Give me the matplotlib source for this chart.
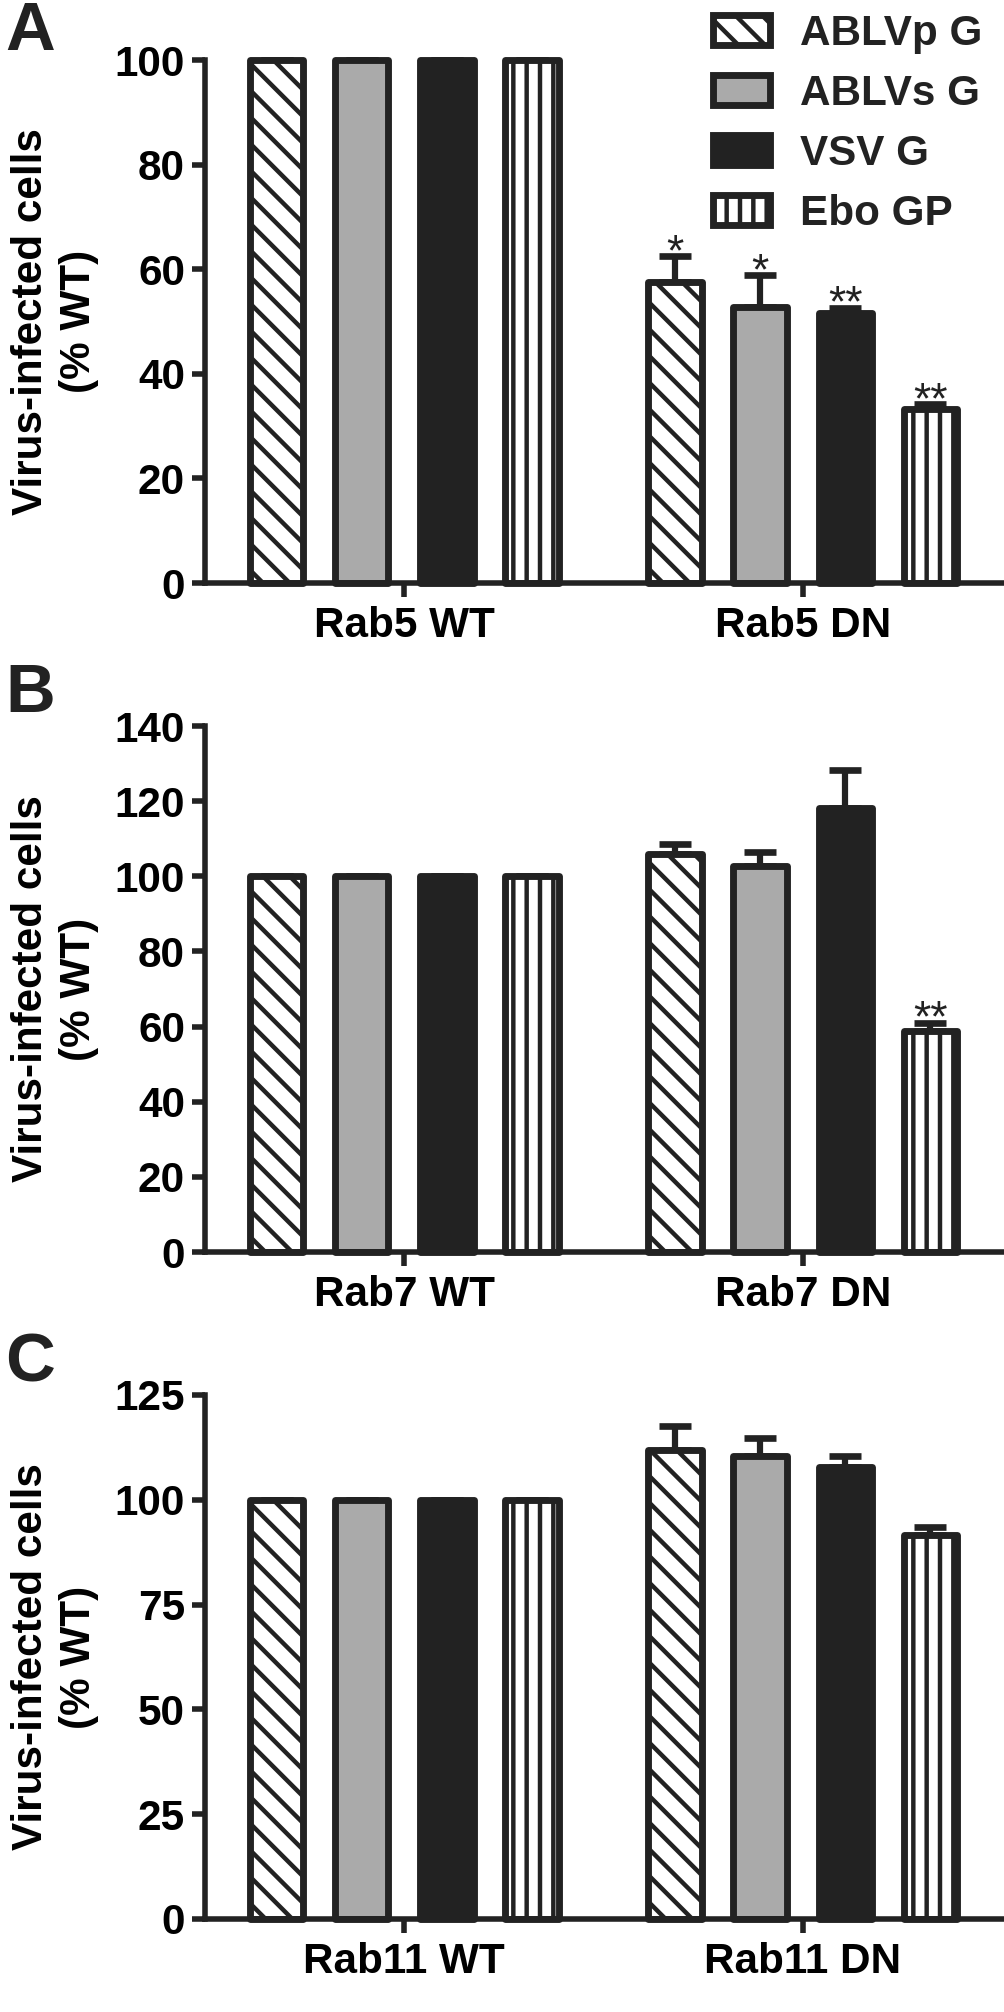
"""Rab5 / Rab7 / Rab11 dominant-negative infection panels (A-C)."""

import matplotlib

matplotlib.use("Agg")
import matplotlib.pyplot as plt
import numpy as np

# --- data -------------------------------------------------------------------
series = ["ABLVp G", "ABLVs G", "VSV G", "Ebo GP"]

groups_a = ["Rab5 WT", "Rab5 DN"]
values_a = [[100, 57.5], [100, 52.8], [100, 51.6], [100, 33.2]]
errors_a = [[0, 5.0], [0, 6.0], [0, 1.0], [0, 1.0]]
stars_a = [["", "*"], ["", "*"], ["", "**"], ["", "**"]]
yticks_a = [0, 20, 40, 60, 80, 100]

groups_b = ["Rab7 WT", "Rab7 DN"]
values_b = [[100, 106.0], [100, 102.7], [100, 118.2], [100, 58.7]]
errors_b = [[0, 2.6], [0, 3.8], [0, 10.0], [0, 2.3]]
stars_b = [["", ""], ["", ""], ["", ""], ["", "**"]]
yticks_b = [0, 20, 40, 60, 80, 100, 120, 140]

groups_c = ["Rab11 WT", "Rab11 DN"]
values_c = [[100, 111.8], [100, 110.5], [100, 107.9], [100, 91.7]]
errors_c = [[0, 5.8], [0, 4.2], [0, 2.6], [0, 1.7]]
stars_c = [["", ""], ["", ""], ["", ""], ["", ""]]
yticks_c = [0, 25, 50, 75, 100, 125]

# --- style ------------------------------------------------------------------
INK = "#222222"
GREY = "#aaaaaa"
FACES = ["white", GREY, INK, "white"]
HATCHES = ["\\\\", None, None, "||"]

plt.rcParams["font.family"] = ["Liberation Sans", "DejaVu Sans"]
plt.rcParams["hatch.linewidth"] = 2.0
plt.rcParams["text.color"] = INK

DPI = 160
W, H = 1004, 2012
fig = plt.figure(figsize=(W / DPI, H / DPI), dpi=DPI)


def fx(px):
    return px / W


def fy(px):
    return 1 - px / H


BAR_W = 0.134
STEP = 0.2136


def panel(top_px, bottom_px, letter, letter_base_px, groups, values, errors, stars, yticks):
    ax = fig.add_axes([fx(205), fy(bottom_px), fx(1002) - fx(205), fy(top_px) - fy(bottom_px)])
    x = np.arange(len(groups))
    handles = []
    for i, name in enumerate(series):
        pos = x + (i - 1.5) * STEP
        ax.errorbar(pos, values[i], yerr=[np.zeros(len(groups)), errors[i]], fmt="none",
                    ecolor=INK, elinewidth=2.8, capsize=7.4, capthick=3.0, zorder=1,
                    clip_on=False)
        bars = ax.bar(pos, values[i], width=BAR_W, color=FACES[i], edgecolor=INK,
                      linewidth=3.1, hatch=HATCHES[i], label=name, zorder=2,
                      clip_on=False)
        for b in bars:
            b.set_joinstyle("round")
        handles.append(bars)
        for j, s in enumerate(stars[i]):
            if s:
                ax.annotate(s, xy=(pos[j], values[i][j] + errors[i][j]), xytext=(0, -4),
                            textcoords="offset points", ha="center", va="baseline",
                            fontsize=20)

    ax.set_xlim(-0.5, 1.5)
    ax.set_ylim(yticks[0], yticks[-1])
    ax.set_yticks(yticks)
    ax.set_xticks(x)
    ax.set_xticklabels(groups)
    for side in ("top", "right"):
        ax.spines[side].set_visible(False)
    for side in ("left", "bottom"):
        ax.spines[side].set_linewidth(2.5)
        ax.spines[side].set_color(INK)
    ax.tick_params(axis="y", length=6, width=2.5, pad=3, labelsize=19, color=INK)
    ax.tick_params(axis="x", length=6.5, width=2.5, pad=4, labelsize=19, color=INK)
    for lab in ax.get_xticklabels() + ax.get_yticklabels():
        lab.set_fontweight("bold")
    ax.set_ylabel("Virus-infected cells\n(% WT)", fontsize=19, fontweight="bold",
                  labelpad=7, linespacing=1.25)
    fig.text(fx(5), fy(letter_base_px), letter, fontsize=31, fontweight="bold",
             ha="left", va="baseline")
    return ax, handles


ax_a, handles = panel(60, 583, "A", 50, groups_a, values_a, errors_a, stars_a, yticks_a)
panel(726, 1252, "B", 712, groups_b, values_b, errors_b, stars_b, yticks_b)
panel(1395, 1919, "C", 1381, groups_c, values_c, errors_c, stars_c, yticks_c)

leg = ax_a.legend(handles=handles, labels=series, loc="upper left",
                  bbox_to_anchor=(fx(713), fy(14)), bbox_transform=fig.transFigure,
                  frameon=False, borderpad=0, borderaxespad=0,
                  handlelength=1.35, handleheight=0.72, handletextpad=0.7,
                  labelspacing=0.47, prop={"size": 19, "weight": "bold"})

fig.savefig("out.png", dpi=DPI)
